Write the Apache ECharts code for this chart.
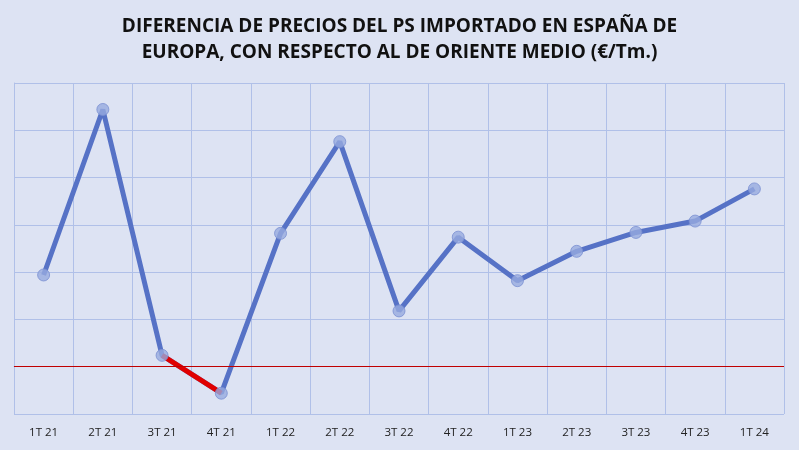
<!DOCTYPE html>
<html>
<head>
<meta charset="utf-8">
<script src="https://cdn.jsdelivr.net/npm/echarts@6/dist/echarts.min.js"></script>
<style>
html, body { margin: 0; padding: 0; background: #dde3f3; }
#chart { width: 799px; height: 450px; }
</style>
</head>
<body>
<div id="chart"></div>
<script>
var myChart = echarts.init(document.getElementById('chart'));

// trimestres
var categories = ['1T 21', '2T 21', '3T 21', '4T 21', '1T 22', '2T 22', '3T 22',
                  '4T 22', '1T 23', '2T 23', '3T 23', '4T 23', '1T 24'];
// diferencia de precios (€/Tm.)
var values = [97, 272, 12, -28, 141, 238, 59, 137, 91, 122, 142, 154, 188];
// tramo negativo en rojo
var redSegment = [null, null, 12, -28, null, null, null, null, null, null, null, null, null];

var option = {
    backgroundColor: '#dde3f3',
    title: {
        text: 'DIFERENCIA DE PRECIOS DEL PS IMPORTADO EN ESPAÑA DE\nEUROPA, CON RESPECTO AL DE ORIENTE MEDIO (€/Tm.)',
        left: 'center',
        top: 9,
        textStyle: {
            color: '#111',
            fontFamily: 'Open Sans',
            fontWeight: 'bold',
            fontSize: 19,
            lineHeight: 26
        }
    },
    grid: {
        left: 14,
        right: 15,
        top: 83,
        bottom: 36
    },
    xAxis: {
        type: 'category',
        data: categories,
        boundaryGap: true,
        axisLine: { lineStyle: { color: '#b0c0e8' } },
        axisTick: { show: false },
        axisLabel: { color: '#222', fontSize: 11.5, fontFamily: 'Open Sans', margin: 13 },
        splitLine: { show: true, lineStyle: { color: '#b0c0e8', width: 1 } }
    },
    yAxis: {
        type: 'value',
        min: -50,
        max: 300,
        interval: 50,
        axisLine: { show: true, lineStyle: { color: '#b0c0e8' } },
        axisLabel: { show: false },
        axisTick: { show: false },
        splitLine: { lineStyle: { color: '#b0c0e8', width: 1 } }
    },
    series: [
        {
            type: 'line',
            data: values,
            showSymbol: false,
            lineStyle: { color: '#5672c6', width: 5 },
            z: 2,
            markLine: {
                silent: true,
                symbol: 'none',
                label: { show: false },
                lineStyle: { color: '#c00000', width: 1, type: 'solid' },
                data: [{ yAxis: 0 }]
            }
        },
        {
            type: 'line',
            data: redSegment,
            showSymbol: false,
            lineStyle: { color: '#e00000', width: 5 },
            z: 3
        },
        {
            type: 'scatter',
            data: values,
            symbolSize: 12,
            itemStyle: { color: '#97aade', borderColor: '#7a90d2', borderWidth: 1 },
            z: 4
        }
    ]
};

myChart.setOption(option);
</script>
</body>
</html>
